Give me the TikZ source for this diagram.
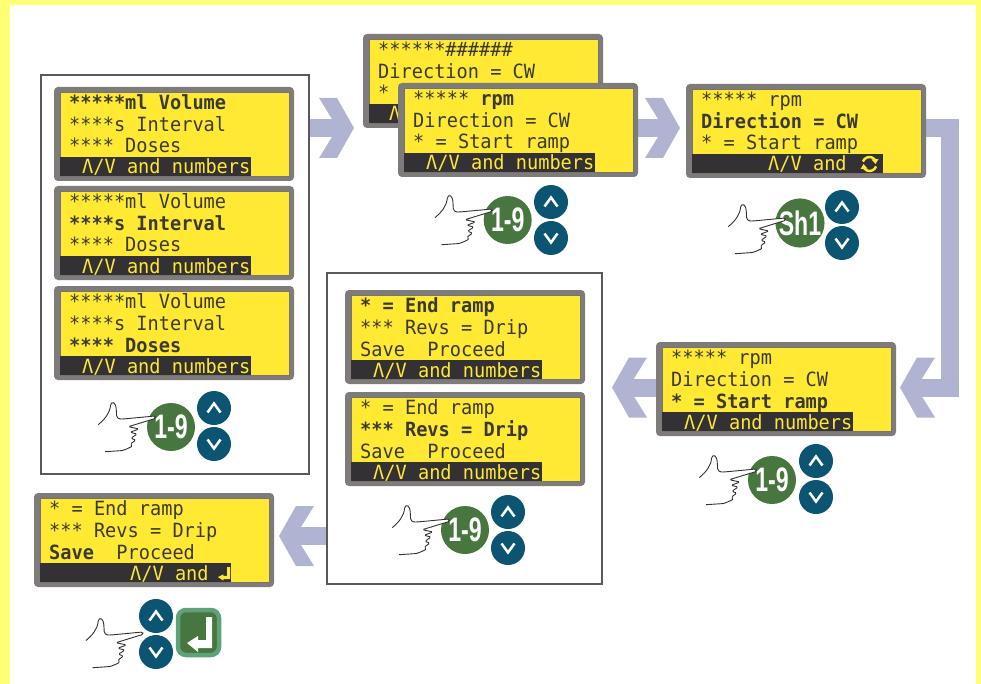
\documentclass[tikz,border=0pt]{standalone}
\usepackage{fontspec}
\newfontfamily\lcdfont[FakeStretch=0.95]{DejaVu Sans Mono}
\newfontfamily\keyfont[FakeStretch=0.68]{Liberation Sans}
\definecolor{pageedge}{HTML}{FFFF73}
\definecolor{lcdyellow}{HTML}{FFE933}
\definecolor{lcdink}{HTML}{3A3A32}
\definecolor{lcdbar}{HTML}{333133}
\definecolor{lcdcase}{HTML}{7F7B7B}
\definecolor{flowblue}{HTML}{B0B4D2}
\definecolor{keygreen}{HTML}{47763F}
\definecolor{keyrim}{HTML}{5FA27A}
\definecolor{keyblue}{HTML}{0B5573}
\pgfdeclarelayer{flowlayer}
\pgfsetlayers{flowlayer,main}
\tikzset{
    lcdcasebox/.style={fill=lcdcase,rounded corners=4pt,minimum width=240pt,minimum height=94pt,inner sep=0},
    lcdline/.style={anchor=base west,inner sep=0,text=lcdink,font=\fontsize{19.6}{20}\selectfont\lcdfont},
    lcdbarline/.style={lcdline,text=lcdyellow},
    framebox/.style={draw=black!65,line width=1.5pt,inner sep=0},
    flowbar/.style={draw=flowblue,line width=18pt,line join=miter},
    numkey/.style={circle,fill=keygreen,minimum size=48pt,inner sep=0,text=white,font=\fontsize{34}{34}\selectfont\keyfont\bfseries},
    arrowkey/.style={circle,fill=keyblue,minimum size=34pt,inner sep=0},
    keychev/.style={draw=white,line width=2.5pt},
    flowhead/.pic={\fill[flowblue] (0,0)--(-17,-30)--(-35,-30)--(-22,-9)--(-22,9)--(-35,30)--(-17,30)--cycle;},
    enterglyph/.pic={\fill[pic actions] (0,-31)--(-6,-31)--(-6,-8)--(-14,-8)--(-14,-12)--(-25,-5)--(-14,4)--(-14,0)--(0,0)--cycle;},
    handpic/.pic={\draw[lcdbar,fill=white,line width=.9pt,line join=round,rounded corners=1.5pt]
        (-72.7,-2.4) .. controls (-66,-8) and (-61,-14) .. (-60.3,-23.4)
        .. controls (-58,-25) and (-56,-24) .. (-55,-20)
        .. controls (-54.5,-16) and (-54.5,-12) .. (-54.3,-10)
        .. controls (-52,-8) and (-50,-8) .. (-48,-8)
        -- (-16,-11) -- (-15.3,-8.7) -- (-42.7,-0.3) -- (-32,2) -- (-41,5.3) -- (-33.7,7)
        -- (-40.3,11.3) -- (-35,13) -- (-41,17.3) -- (-38.3,19)
        .. controls (-44,22) and (-48,23.5) .. (-51,23.7) -- (-66,24.7);},
}
\newcommand{\lcd}[8]{%
\begin{scope}[shift={(#2,#3)}]
\node[lcdcasebox] (#1) at (120,47) {};
\draw[fill=lcdyellow,draw=lcdink!70,line width=.4pt] (6,5) rectangle (235,89);
\fill[lcdbar] (6,70) rectangle (197,89);
\node[lcdline] (#1a) at (15,22.5) {#4};
\node[lcdline] (#1b) at (15,44.5) {#5};
\node[lcdline] (#1c) at (15,66) {#6};
\node[lcdbarline] (#1d) at (#7,87) {#8};
\end{scope}}
\newcommand{\keypad}[5]{%
\pic at (#2,#3) {handpic};
\node[arrowkey] (#1up) at (#4,#5-18) {};
\node[arrowkey] (#1dn) at (#4,#5+18) {};
\draw[keychev] ([shift={(-6.5,4.5)}]#1up.center)--([shift={(0,-4.5)}]#1up.center)--([shift={(6.5,4.5)}]#1up.center);
\draw[keychev] ([shift={(-6.5,-4.5)}]#1dn.center)--([shift={(0,4.5)}]#1dn.center)--([shift={(6.5,-4.5)}]#1dn.center);}
\begin{document}
\begin{tikzpicture}[x=1pt,y=-1pt]
\useasboundingbox (0,0) rectangle (981,684);

\node[framebox,minimum width=268pt,minimum height=399pt] (framevol) at (175,274.5) {};
\node[framebox,minimum width=275pt,minimum height=311pt] (framerev) at (464.5,428.5) {};

\coordinate (tipvol) at (354,128);
\coordinate (tiprpm) at (680,128);
\coordinate (cornertop) at (950,128);
\coordinate (cornerlow) at (950,387.5);
\coordinate (tipstart) at (900,387.5);
\coordinate (tiprev) at (612,387.5);
\coordinate (tipsave) at (279,536);
\coordinate (cyclemark) at (869.5,164);

\lcd{dispback}{363}{34}{******\#\#\#\#\#\#}{Direction = CW}{*}{26}{Λ}
\lcd{dispfront}{398}{83}{***** \textbf{rpm}}{Direction = CW}{* = Start ramp}{28}{Λ/V and numbers}
\lcd{dispdir}{686}{84}{***** rpm}{\textbf{Direction = CW}}{* = Start ramp}{82}{Λ/V and}
\lcd{dispvol}{54}{87}{\textbf{*****ml Volume}}{****s Interval}{**** Doses}{28}{Λ/V and numbers}
\lcd{dispint}{54}{186}{*****ml Volume}{\textbf{****s Interval}}{**** Doses}{28}{Λ/V and numbers}
\lcd{dispdose}{54}{286}{*****ml Volume}{****s Interval}{\textbf{**** Doses}}{28}{Λ/V and numbers}
\lcd{dispstart}{656}{342}{***** rpm}{Direction = CW}{\textbf{* = Start ramp}}{28}{Λ/V and numbers}
\lcd{dispend}{345}{290}{\textbf{* = End ramp}}{*** Revs = Drip}{Save\ \ Proceed}{28}{Λ/V and numbers}
\lcd{disprevs}{345}{392}{* = End ramp}{\textbf{*** Revs = Drip}}{Save\ \ Proceed}{28}{Λ/V and numbers}
\lcd{dispsave}{34}{493}{* = End ramp}{*** Revs = Drip}{\textbf{Save}\ \ Proceed}{96}{Λ/V and}

\begin{pgfonlayer}{flowlayer}
\fill[pageedge] (0,0) rectangle (981,684);
\fill[white] (10,5) rectangle (976,684);
\draw[flowbar] (framevol.east |- tipvol) -- ([xshift=-18pt]tipvol);
\pic at (tipvol) {flowhead};
\draw[flowbar] (dispfront.east |- tiprpm) -- ([xshift=-18pt]tiprpm);
\pic at (tiprpm) {flowhead};
\draw[flowbar] (dispdir.east |- cornertop) -- (cornertop) -- (cornerlow) -- ([xshift=18pt]tipstart);
\pic[xscale=-1] at (tipstart) {flowhead};
\draw[flowbar] (dispstart.west |- tiprev) -- ([xshift=18pt]tiprev);
\pic[xscale=-1] at (tiprev) {flowhead};
\draw[flowbar] (framerev.west |- tipsave) -- ([xshift=18pt]tipsave);
\pic[xscale=-1] at (tipsave) {flowhead};
\end{pgfonlayer}

\draw[lcdyellow,line width=2.4pt] (cyclemark) ++(-160:7) arc (-160:-40:7);
\draw[lcdyellow,line width=2.4pt] (cyclemark) ++(20:7) arc (20:140:7);
\fill[lcdyellow] ([shift={(2,-4.5)}]cyclemark) -- ([shift={(9,-5)}]cyclemark) -- ([shift={(6,0)}]cyclemark) -- cycle;
\fill[lcdyellow] ([shift={(-2,4.5)}]cyclemark) -- ([shift={(-9,5)}]cyclemark) -- ([shift={(-6,0)}]cyclemark) -- cycle;
\pic[lcdyellow,fill=lcdyellow,xscale=.48,yscale=.38] at (230,579) {enterglyph};

\node[numkey] (keyvol) at (171,427) {1-9};
\keypad{padvol}{171}{427}{214}{426}
\node[numkey] (keyfront) at (507.7,220) {1-9};
\keypad{padfront}{507.7}{220}{551}{220}
\node[numkey] (keydir) at (800,223) {Sh1};
\keypad{paddir}{801}{229}{842}{225}
\node[numkey] (keystart) at (772,480) {1-9};
\keypad{padstart}{772}{480}{816}{479}
\node[numkey] (keyrev) at (465,530) {1-9};
\keypad{padrev}{465}{530}{508}{530}
\keypad{padsave}{158.6}{643}{156}{634}
\node[draw=keyrim,fill=keygreen,line width=4.5pt,rounded corners=8pt,minimum width=41pt,minimum height=45pt,inner sep=0] (keyenter) at (198.5,632.5) {};
\pic[white,fill=white] at (212,648) {enterglyph};
\end{tikzpicture}
\end{document}
